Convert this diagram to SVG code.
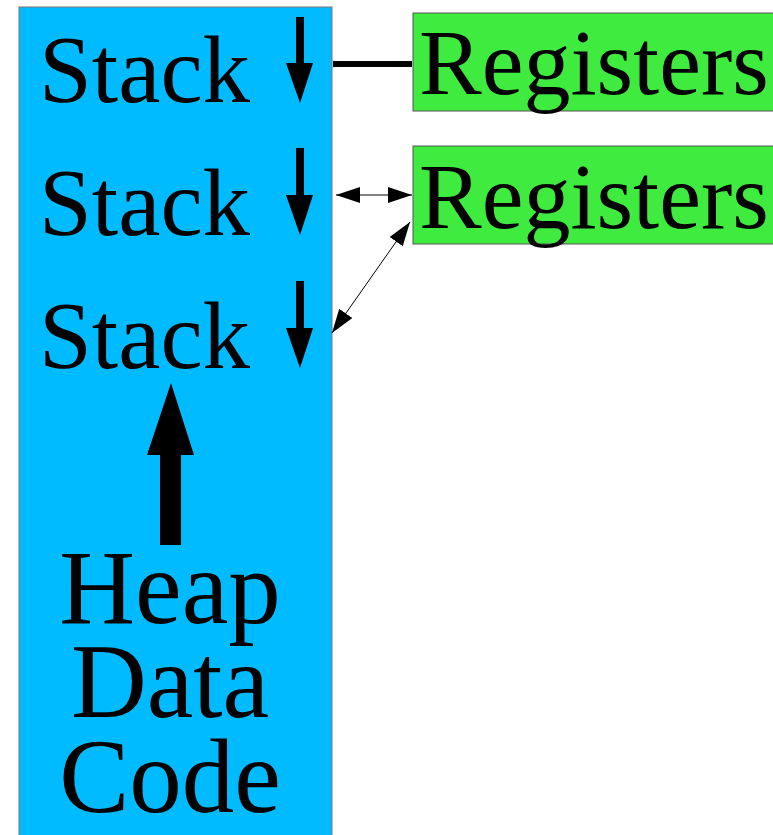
<svg xmlns="http://www.w3.org/2000/svg" width="773" height="835" viewBox="0 0 773 835">
<style>
text{font-family:'Liberation Serif','Times New Roman',serif;fill:#000}
.st{font-size:95px}
.rg{font-size:94px}
.big{font-size:105px;text-anchor:middle}
.thin{stroke:#000;stroke-width:1;fill:none}
</style>
<defs>
<marker id="ah" markerUnits="userSpaceOnUse" markerWidth="24" markerHeight="16" refX="24" refY="8" orient="auto-start-reverse">
<path d="M0,0 L24,8 L0,16 Z" fill="#000"/>
</marker>
</defs>
<rect width="773" height="835" fill="#fff"/>
<g id="memory">
<rect x="19" y="7" width="313" height="840" fill="#00BBFF" stroke="#777" stroke-width="1"/>
<text class="st" x="39" y="102">Stack</text>
<text class="st" x="39" y="235">Stack</text>
<text class="st" x="39" y="368">Stack</text>
<path d="M296,17 H304 V63 H313 L300,103 L286,63 H296 Z" fill="#000"/>
<path d="M296,148 H304 V195 H313 L300,235 L286,195 H296 Z" fill="#000"/>
<path d="M296,281 H304 V328 H313 L300,368 L286,328 H296 Z" fill="#000"/>
<path d="M160,545 H181 V455 H194 L171,383 L147,455 H160 Z" fill="#000"/>
<text class="big" x="170" y="623">Heap</text>
<text class="big" x="170" y="717">Data</text>
<text class="big" x="170" y="812">Code</text>
</g>
<g id="registers1">
<rect x="413" y="13" width="380" height="98" fill="#3FEB3F" stroke="#555" stroke-width="1"/>
<text class="rg" x="419" y="94">Registers</text>
</g>
<g id="registers2">
<rect x="413" y="146" width="380" height="98" fill="#3FEB3F" stroke="#555" stroke-width="1"/>
<text class="rg" x="419" y="228">Registers</text>
</g>
<g id="connectors">
<line x1="333" y1="64" x2="412" y2="64" stroke="#000" stroke-width="6"/>
<line class="thin" x1="336" y1="195" x2="412" y2="195" marker-start="url(#ah)" marker-end="url(#ah)"/>
<line class="thin" x1="332" y1="333" x2="410" y2="222" marker-start="url(#ah)" marker-end="url(#ah)"/>
</g>
</svg>
